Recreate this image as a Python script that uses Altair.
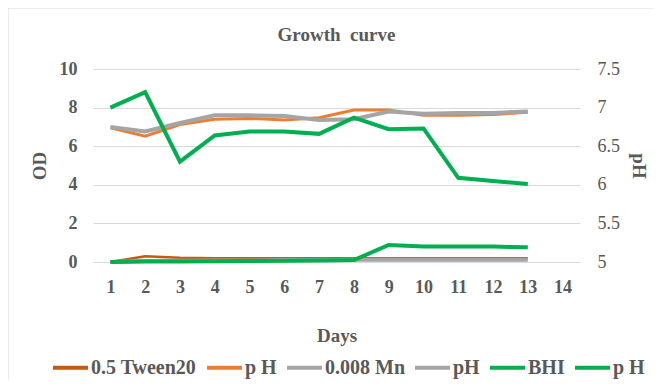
import altair as alt
import pandas as pd

days = list(range(1, 14))
all_days = list(range(1, 15))

tween20_od = [0.0, 0.30, 0.22, 0.20, 0.20, 0.20, 0.20, 0.20, 0.20, 0.20, 0.20, 0.20, 0.20]
tween20_ph = [6.74, 6.63, 6.78, 6.85, 6.86, 6.84, 6.87, 6.97, 6.97, 6.90, 6.90, 6.91, 6.94]
mn_od = [0.0, 0.05, 0.07, 0.08, 0.08, 0.10, 0.10, 0.12, 0.12, 0.12, 0.12, 0.12, 0.12]
mn_ph = [6.75, 6.69, 6.80, 6.90, 6.90, 6.89, 6.84, 6.85, 6.95, 6.92, 6.93, 6.93, 6.95]
bhi_od = [0.0, 0.02, 0.03, 0.04, 0.05, 0.07, 0.08, 0.10, 0.88, 0.80, 0.80, 0.80, 0.76]
bhi_ph = [7.00, 7.20, 6.30, 6.64, 6.69, 6.69, 6.66, 6.87, 6.72, 6.73, 6.09, 6.05, 6.01]

series_keys = ["s1", "s2", "s3", "s4", "s5", "s6"]
series_labels = ["0.5 Tween20", "p H", "0.008 Mn", "pH", "BHI", "p H"]
series_colors = ["#C55A11", "#ED7D31", "#A5A5A5", "#A5A5A5", "#00B050", "#00B050"]
series_widths = [2.5, 3, 4, 4, 4, 4]
series_values = [tween20_od, tween20_ph, mn_od, mn_ph, bhi_od, bhi_ph]

FONT = "Liberation Serif"
TXT = "#595959"

label_expr = "".join(
    f"datum.value=='{k}'?'{l}':" for k, l in zip(series_keys, series_labels)
) + "datum.value"

color_scale = alt.Scale(domain=series_keys, range=series_colors)
x_enc = alt.X(
    "day:O",
    scale=alt.Scale(type="point", padding=0.5, domain=all_days),
    axis=alt.Axis(
        title="Days", labelAngle=0, ticks=False, grid=False,
        domainColor="#D9D9D9", labelPadding=16, titlePadding=30,
        labelFont=FONT, labelFontSize=18, labelFontWeight="bold", labelColor=TXT,
        titleFont=FONT, titleFontSize=19, titleFontWeight="bold", titleColor=TXT,
    ),
)
color_enc = alt.Color(
    "series:N",
    scale=color_scale,
    legend=alt.Legend(
        title=None, orient="none", direction="horizontal",
        legendX=-42, legendY=279,
        symbolType="stroke", symbolSize=1225, symbolStrokeWidth=4,
        labelExpr=label_expr, labelFont=FONT, labelFontSize=20,
        labelFontWeight="bold", labelColor=TXT, labelOffset=1,
        columnPadding=2, labelLimit=300, padding=0,
    ),
)


def series_chart(i, axis):
    df = pd.DataFrame({"day": days, "value": series_values[i], "series": series_keys[i]})
    return alt.Chart(df).mark_line(strokeWidth=series_widths[i]).encode(
        x=x_enc, y=axis, color=color_enc
    )


y_left = alt.Y(
    "value:Q",
    scale=alt.Scale(domain=[0, 10]),
    axis=alt.Axis(
        title="OD", orient="left", values=[0, 2, 4, 6, 8, 10], ticks=False,
        domain=False, gridColor="#D9D9D9", labelPadding=16, titlePadding=10,
        labelFont=FONT, labelFontSize=18, labelFontWeight="bold", labelColor=TXT,
        titleFont=FONT, titleFontSize=19, titleFontWeight="bold", titleColor=TXT,
    ),
)
y_right = alt.Y(
    "value:Q",
    scale=alt.Scale(domain=[5, 7.5]),
    axis=alt.Axis(
        title="pH", orient="right", values=[5, 5.5, 6, 6.5, 7, 7.5], ticks=False,
        domain=False, grid=False, labelPadding=17, titlePadding=9, titleAngle=90,
        format="~g",
        labelFont=FONT, labelFontSize=18, labelFontWeight="normal", labelColor=TXT,
        titleFont=FONT, titleFontSize=19, titleFontWeight="bold", titleColor=TXT,
    ),
)

left = alt.layer(series_chart(0, y_left), series_chart(2, y_left), series_chart(4, y_left))
right = alt.layer(series_chart(1, y_right), series_chart(3, y_right), series_chart(5, y_right))

# light chart-area frame (left and top edges, as in the reference)
frame_df = pd.DataFrame({"k": [0]})
frame_left = alt.Chart(frame_df).mark_rule(color="#D9D9D9", strokeWidth=1).encode(
    x=alt.value(-85), y=alt.value(-61), y2=alt.value(311)
)
frame_top = alt.Chart(frame_df).mark_rule(color="#D9D9D9", strokeWidth=1).encode(
    x=alt.value(-85), x2=alt.value(560), y=alt.value(-61)
)

chart = (
    alt.layer(left, right, frame_left, frame_top)
    .resolve_scale(y="independent")
    .properties(
        width=487,
        height=193,
        title=alt.TitleParams(
            "Growth\u00a0\u00a0curve", font=FONT, fontSize=19, fontWeight="bold",
            color=TXT, anchor="middle", offset=-37,
        ),
        autosize=alt.AutoSizeParams(type="none"),
        padding={"left": 85, "top": 61, "right": 74, "bottom": 118},
    )
    .configure_view(stroke=None)
)

chart.save("out.html", embed_options={"renderer": "svg", "actions": False})
